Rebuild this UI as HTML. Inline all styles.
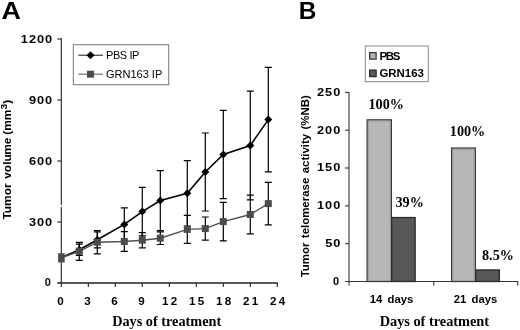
<!DOCTYPE html>
<html><head><meta charset="utf-8"><title>Figure</title>
<style>
html,body{margin:0;padding:0;background:#fff;}
svg{display:block}
text{font-family:"Liberation Sans",sans-serif;fill:#000}
.b{font-weight:bold}
.s{font-family:"Liberation Serif",serif;font-weight:bold}
</style></head><body>
<svg width="520" height="330" viewBox="0 0 520 330">
<defs>
<pattern id="pl" width="2" height="2" patternUnits="userSpaceOnUse"><rect width="2" height="2" fill="#bcbcbc"/><rect width="1" height="1" fill="#b0b0b0"/><rect x="1" y="1" width="1" height="1" fill="#b4b4b4"/></pattern>
<pattern id="pd" width="2" height="2" patternUnits="userSpaceOnUse"><rect width="2" height="2" fill="#5c5c5c"/><rect width="1" height="1" fill="#505050"/><rect x="1" y="1" width="1" height="1" fill="#565656"/></pattern>
</defs>
<rect width="520" height="330" fill="#fff"/>

<text class="b" transform="translate(1.5,18.7) scale(1.12,1)" font-size="24">A</text>
<text class="b" transform="translate(298.8,18.5) scale(1.04,1)" font-size="23.5">B</text>
<g stroke="#222" fill="none">
<line x1="61.3" y1="38.3" x2="61.3" y2="287" stroke-width="1.1"/>
<line x1="57.3" y1="283.0" x2="277.8" y2="283.0" stroke-width="1.5"/>
<line x1="57.3" y1="222.00" x2="61.3" y2="222.00" stroke-width="1.1"/>
<line x1="57.3" y1="161.00" x2="61.3" y2="161.00" stroke-width="1.1"/>
<line x1="57.3" y1="100.00" x2="61.3" y2="100.00" stroke-width="1.1"/>
<line x1="57.3" y1="39.00" x2="61.3" y2="39.00" stroke-width="1.1"/>
<line x1="88.3" y1="283.0" x2="88.3" y2="287" stroke-width="1.1"/>
<line x1="115.3" y1="283.0" x2="115.3" y2="287" stroke-width="1.1"/>
<line x1="142.3" y1="283.0" x2="142.3" y2="287" stroke-width="1.1"/>
<line x1="169.3" y1="283.0" x2="169.3" y2="287" stroke-width="1.1"/>
<line x1="196.3" y1="283.0" x2="196.3" y2="287" stroke-width="1.1"/>
<line x1="223.3" y1="283.0" x2="223.3" y2="287" stroke-width="1.1"/>
<line x1="250.3" y1="283.0" x2="250.3" y2="287" stroke-width="1.1"/>
<line x1="277.3" y1="283.0" x2="277.3" y2="287" stroke-width="1.1"/>
</g>
<rect x="59.5" y="204.9" width="4" height="1.9" fill="#fff"/>
<text class="b" transform="translate(51.6,285.95) scale(0.97,1)" font-size="11.3" text-anchor="end" letter-spacing="0.9">0</text>
<text class="b" transform="translate(53.2,225.6) scale(1.1,1)" font-size="11.6" text-anchor="end" letter-spacing="0.9">300</text>
<text class="b" transform="translate(53.2,164.6) scale(1.1,1)" font-size="11.6" text-anchor="end" letter-spacing="0.9">600</text>
<text class="b" transform="translate(53.2,103.6) scale(1.1,1)" font-size="11.6" text-anchor="end" letter-spacing="0.9">900</text>
<text class="b" transform="translate(53.2,42.6) scale(1.1,1)" font-size="11.6" text-anchor="end" letter-spacing="0.9">1200</text>
<text class="b" transform="translate(61.7,305.1)" font-size="11.6" text-anchor="middle" letter-spacing="2.2">0</text>
<text class="b" transform="translate(88.7,305.1)" font-size="11.6" text-anchor="middle" letter-spacing="2.2">3</text>
<text class="b" transform="translate(115.7,305.1)" font-size="11.6" text-anchor="middle" letter-spacing="2.2">6</text>
<text class="b" transform="translate(142.7,305.1)" font-size="11.6" text-anchor="middle" letter-spacing="2.2">9</text>
<text class="b" transform="translate(170.7,305.1)" font-size="11.6" text-anchor="middle" letter-spacing="2.2">12</text>
<text class="b" transform="translate(197.7,305.1)" font-size="11.6" text-anchor="middle" letter-spacing="2.2">15</text>
<text class="b" transform="translate(224.7,305.1)" font-size="11.6" text-anchor="middle" letter-spacing="2.2">18</text>
<text class="b" transform="translate(251.7,305.1)" font-size="11.6" text-anchor="middle" letter-spacing="2.2">21</text>
<text class="b" transform="translate(278.7,305.1)" font-size="11.6" text-anchor="middle" letter-spacing="2.2">24</text>
<text class="b" transform="translate(10.5,219.6) rotate(-90) scale(1.085,1)" font-size="11">Tumor <tspan dx="1.2">volu</tspan><tspan dx="-0.5">me</tspan> <tspan dx="-0.5">(mm</tspan><tspan font-size="9.5" dy="-3.2">3</tspan><tspan dy="3.2">)</tspan></text>
<text class="s" transform="translate(112.2,325.5)" font-size="14.25">Days of treatment</text>
<g stroke="#000" stroke-width="1.2" fill="none">
<path d="M79.3 244.2V255.4M75.8 244.2h7M75.8 255.4h7"/>
<path d="M97.3 231.8V247.8M93.8 231.8h7M93.8 247.8h7"/>
<path d="M124.3 207.9V240.9M120.8 207.9h7M120.8 240.9h7"/>
<path d="M142.3 187.3V235.9M138.8 187.3h7M138.8 235.9h7"/>
<path d="M160.3 170.6V230.6M156.8 170.6h7M156.8 230.6h7"/>
<path d="M187.3 160.6V226.0M183.8 160.6h7M183.8 226.0h7"/>
<path d="M205.3 133.0V211.0M201.8 133.0h7M201.8 211.0h7"/>
<path d="M223.3 110.3V198.7M219.8 110.3h7M219.8 198.7h7"/>
<path d="M250.3 91.2V199.8M246.8 91.2h7M246.8 199.8h7"/>
<path d="M268.3 67.4V171.8M264.8 67.4h7M264.8 171.8h7"/>
<path d="M79.3 242.3V260.3M75.8 242.3h7M75.8 260.3h7"/>
<path d="M97.3 230.5V253.9M93.8 230.5h7M93.8 253.9h7"/>
<path d="M124.3 231.7V251.3M120.8 231.7h7M120.8 251.3h7"/>
<path d="M142.3 232.6V247.8M138.8 232.6h7M138.8 247.8h7"/>
<path d="M160.3 231.9V244.5M156.8 231.9h7M156.8 244.5h7"/>
<path d="M187.3 215.4V243.4M183.8 215.4h7M183.8 243.4h7"/>
<path d="M205.3 217.0V240.2M201.8 217.0h7M201.8 240.2h7"/>
<path d="M223.3 202.4V240.8M219.8 202.4h7M219.8 240.8h7"/>
<path d="M250.3 195.2V233.8M246.8 195.2h7M246.8 233.8h7"/>
<path d="M268.3 182.4V224.8M264.8 182.4h7M264.8 224.8h7"/>
</g>
<polyline points="61.3,257.6 79.3,249.8 97.3,239.8 124.3,224.4 142.3,211.6 160.3,200.6 187.3,193.3 205.3,172.0 223.3,154.5 250.3,145.5 268.3,119.6" fill="none" stroke="#000" stroke-width="1.6"/>
<polyline points="61.3,257.8 79.3,251.3 97.3,242.2 124.3,241.5 142.3,240.2 160.3,238.2 187.3,229.4 205.3,228.6 223.3,221.6 250.3,214.5 268.3,203.6" fill="none" stroke="#505050" stroke-width="1.4"/>
<path d="M79.3 245.8l4 4l-4 4l-4 -4z" fill="#000"/>
<path d="M97.3 235.8l4 4l-4 4l-4 -4z" fill="#000"/>
<path d="M124.3 220.4l4 4l-4 4l-4 -4z" fill="#000"/>
<path d="M142.3 207.6l4 4l-4 4l-4 -4z" fill="#000"/>
<path d="M160.3 196.6l4 4l-4 4l-4 -4z" fill="#000"/>
<path d="M187.3 189.3l4 4l-4 4l-4 -4z" fill="#000"/>
<path d="M205.3 168.0l4 4l-4 4l-4 -4z" fill="#000"/>
<path d="M223.3 150.5l4 4l-4 4l-4 -4z" fill="#000"/>
<path d="M250.3 141.5l4 4l-4 4l-4 -4z" fill="#000"/>
<path d="M268.3 115.6l4 4l-4 4l-4 -4z" fill="#000"/>
<rect x="58.1" y="253.2" width="6.6" height="9.2" fill="#4c4c4c"/>
<rect x="75.8" y="247.8" width="7" height="7" fill="#4c4c4c"/>
<rect x="93.8" y="238.7" width="7" height="7" fill="#4c4c4c"/>
<rect x="120.8" y="238.0" width="7" height="7" fill="#4c4c4c"/>
<rect x="138.8" y="236.7" width="7" height="7" fill="#4c4c4c"/>
<rect x="156.8" y="234.7" width="7" height="7" fill="#4c4c4c"/>
<rect x="183.8" y="225.9" width="7" height="7" fill="#4c4c4c"/>
<rect x="201.8" y="225.1" width="7" height="7" fill="#4c4c4c"/>
<rect x="219.8" y="218.1" width="7" height="7" fill="#4c4c4c"/>
<rect x="246.8" y="211.0" width="7" height="7" fill="#4c4c4c"/>
<rect x="264.8" y="200.1" width="7" height="7" fill="#4c4c4c"/>
<rect x="73.3" y="44.7" width="95.4" height="40" fill="#fff" stroke="#777" stroke-width="1"/>
<line x1="78.3" y1="55.2" x2="103" y2="55.2" stroke="#111" stroke-width="1"/>
<path d="M90.5 51.2l4 4l-4 4l-4 -4z" fill="#000"/>
<line x1="78.3" y1="74.2" x2="103" y2="74.2" stroke="#555" stroke-width="1"/>
<rect x="87" y="70.7" width="7" height="7" fill="#4c4c4c"/>
<text transform="translate(106,58.8)" font-size="11" letter-spacing="-0.4">PBS IP</text>
<text transform="translate(106,78)" font-size="11">GRN163 IP</text>
<g stroke="#333" stroke-width="1.1" fill="none">
<line x1="349.0" y1="91.9" x2="349.0" y2="285.5"/>
<line x1="345.0" y1="281.5" x2="518" y2="281.5"/>
<line x1="345.0" y1="243.7" x2="349.0" y2="243.7"/>
<line x1="345.0" y1="205.9" x2="349.0" y2="205.9"/>
<line x1="345.0" y1="168.0" x2="349.0" y2="168.0"/>
<line x1="345.0" y1="130.2" x2="349.0" y2="130.2"/>
<line x1="345.0" y1="92.4" x2="349.0" y2="92.4"/>
<line x1="433.8" y1="281.5" x2="433.8" y2="285.5"/>
<line x1="517.7" y1="281.5" x2="517.7" y2="285.5"/>
</g>
<text class="b" transform="translate(339.9,284.9) scale(0.97,1)" font-size="11.3" text-anchor="end" letter-spacing="0.9">0</text>
<text class="b" transform="translate(341.3,247.08) scale(1.1,1)" font-size="11.6" text-anchor="end" letter-spacing="0.9">50</text>
<text class="b" transform="translate(341.3,209.26) scale(1.1,1)" font-size="11.6" text-anchor="end" letter-spacing="0.9">100</text>
<text class="b" transform="translate(341.3,171.44) scale(1.1,1)" font-size="11.6" text-anchor="end" letter-spacing="0.9">150</text>
<text class="b" transform="translate(341.3,133.62) scale(1.1,1)" font-size="11.6" text-anchor="end" letter-spacing="0.9">200</text>
<text class="b" transform="translate(341.3,95.8) scale(1.1,1)" font-size="11.6" text-anchor="end" letter-spacing="0.9">250</text>
<text class="b" transform="translate(308.6,277.3) rotate(-90) scale(1.04,1)" font-size="11" word-spacing="1.2">Tumor telomerase activity (%NB)</text>
<rect x="367.15" y="119.85" width="24.20" height="161.65" fill="url(#pl)" stroke="#3a3a3a" stroke-width="1.3"/>
<path d="M368.30 281.0V121.00H390.20V281.0" fill="none" stroke="#9a9a9a" stroke-width="1"/>
<rect x="391.65" y="217.55" width="23.50" height="63.95" fill="url(#pd)" stroke="#2a2a2a" stroke-width="1.3"/>
<rect x="451.65" y="148.05" width="23.70" height="133.45" fill="url(#pl)" stroke="#3a3a3a" stroke-width="1.3"/>
<path d="M452.80 281.0V149.20H474.20V281.0" fill="none" stroke="#9a9a9a" stroke-width="1"/>
<rect x="475.65" y="269.95" width="23.70" height="11.55" fill="url(#pd)" stroke="#2a2a2a" stroke-width="1.3"/>
<text class="s" transform="translate(368.5,108.9)" font-size="14.2">100%</text>
<text class="s" transform="translate(395.5,206.7)" font-size="14.2">39%</text>
<text class="s" transform="translate(449.8,136)" font-size="14.2">100%</text>
<text class="s" transform="translate(482,260.3)" font-size="14.2">8.5%</text>
<text class="b" transform="translate(391.5,303.4) scale(1.03,1)" font-size="11" text-anchor="middle" word-spacing="2">14 days</text>
<text class="b" transform="translate(475.6,303.4) scale(1.03,1)" font-size="11" text-anchor="middle" word-spacing="2">21 days</text>
<text class="s" transform="translate(379.7,326.3)" font-size="14.3">Days of treatment</text>
<rect x="365.3" y="46" width="63" height="35.7" fill="#fff" stroke="#888" stroke-width="1"/>
<rect x="369.7" y="52.6" width="6.4" height="6.5" fill="#b4b4b4" stroke="#3a3a3a" stroke-width="1.3"/>
<rect x="369.7" y="70.1" width="6.4" height="6.5" fill="#5a5a5a" stroke="#2a2a2a" stroke-width="1.3"/>
<text class="b" transform="translate(379.5,59.5) scale(1.1,1)" font-size="10.4" letter-spacing="-1.2">PBS</text>
<text class="b" transform="translate(379.4,77.1) scale(1.1,1)" font-size="10.4">GRN163</text>
</svg></body></html>
